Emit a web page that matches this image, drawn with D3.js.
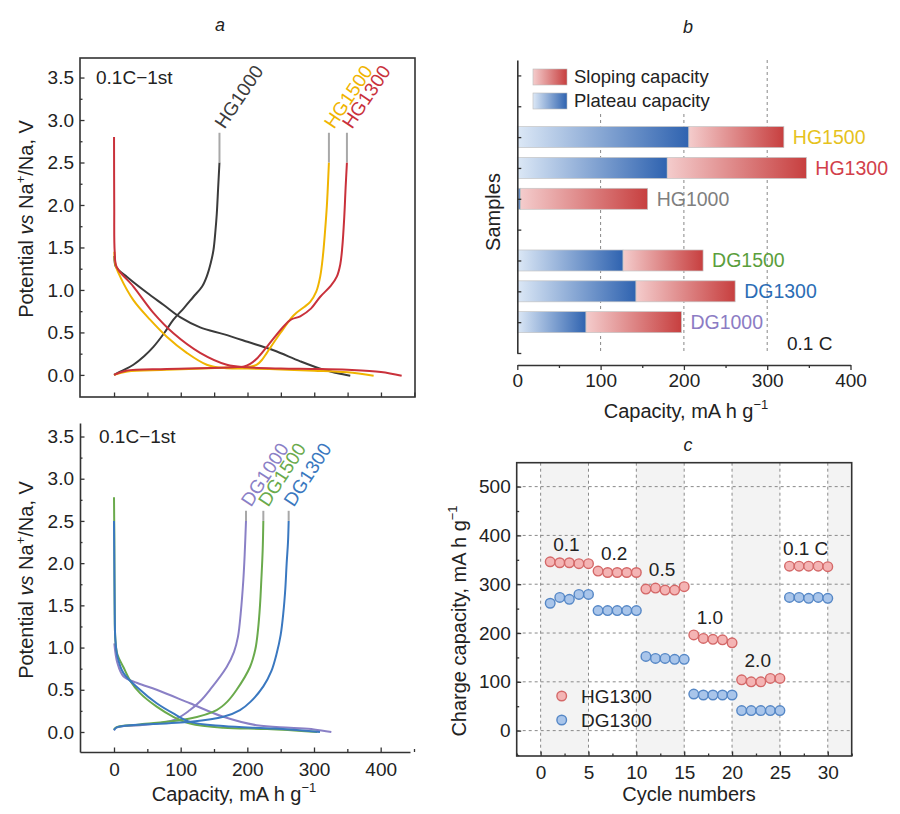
<!DOCTYPE html>
<html><head><meta charset="utf-8">
<script src="https://cdn.jsdelivr.net/npm/d3@7"></script>
<style>
body{margin:0;background:#fff}
svg{display:block;font-family:"Liberation Sans",Arial,Helvetica,sans-serif}
</style>
</head><body>
<svg id="chart" width="900" height="814"></svg>
<script>
// ---------------- DATA ----------------
// Panel a (top): [capacity mAh/g, potential V]
const hg1000Dis = [[0.5,1.4],[3,1.27],[20,1.15],[49,0.97],[75,0.82],[99,0.68],[129,0.56],[164,0.48],[200,0.39],[239,0.29],[279,0.16],[314,0.06],[335,0.02],[354,-0.01]];
const hg1000Chg = [[0,0],[10,0.04],[29,0.12],[45,0.22],[59,0.33],[75,0.49],[89,0.65],[105,0.79],[119,0.92],[132,1.04],[139,1.16],[145,1.32],[149,1.47],[152,1.7],[154,1.9],[156,2.2],[158,2.5]];
const hg1500Dis = [[0.5,1.45],[2,1.3],[9,1.16],[29,0.88],[54,0.65],[79,0.45],[109,0.26],[139,0.12],[165,0.08],[200,0.075],[250,0.065],[300,0.05],[350,0.03],[389,-0.01]];
const hg1500Chg = [[0,0],[20,0.04],[79,0.06],[179,0.09],[205,0.1],[214,0.12],[222,0.18],[229,0.26],[249,0.49],[269,0.70],[285,0.80],[294,0.86],[303,0.98],[309,1.16],[313,1.4],[316,1.67],[319,2.0],[322,2.5]];
const hg1300Dis = [[0,2.8],[0.3,2.0],[1,1.45],[4,1.27],[29,1.04],[59,0.73],[89,0.49],[129,0.26],[169,0.12],[199,0.09],[250,0.075],[300,0.07],[350,0.06],[400,0.035],[431,-0.01]];
const hg1300Chg = [[0,0],[18,0.05],[79,0.07],[179,0.09],[195,0.1],[204,0.13],[215,0.2],[229,0.33],[254,0.57],[265,0.65],[279,0.69],[295,0.78],[309,0.92],[325,1.05],[334,1.16],[339,1.3],[342,1.5],[345,1.86],[347,2.2],[349,2.5]];
// Panel a (bottom)
const dg1000Dis = [[0.5,1.05],[5,0.82],[14,0.66],[35,0.58],[64,0.50],[114,0.34],[164,0.18],[214,0.08],[264,0.05],[300,0.03],[326,0.0]];
const dg1000Chg = [[0,0.02],[3,0.05],[15,0.07],[39,0.08],[89,0.14],[114,0.26],[130,0.37],[144,0.50],[169,0.77],[180,0.95],[186,1.13],[190,1.4],[194,1.8],[196,2.1],[198,2.5]];
const dg1500Dis = [[0,2.78],[0.5,2.3],[1,1.5],[2,1.1],[5,0.92],[14,0.77],[25,0.6],[39,0.46],[64,0.30],[89,0.18],[114,0.10],[164,0.05],[230,0.035],[305,0.0]];
const dg1500Chg = [[0,0.03],[5,0.06],[39,0.09],[114,0.16],[154,0.26],[170,0.36],[184,0.50],[204,0.77],[212,0.98],[216,1.21],[219,1.5],[221,1.8],[223,2.15],[224,2.5]];
const dg1300Dis = [[0,2.5],[0.5,2.0],[1,1.5],[2,1.1],[5,0.9],[14,0.70],[39,0.50],[64,0.34],[89,0.22],[114,0.12],[164,0.07],[240,0.04],[309,0.0]];
const dg1300Chg = [[0,0.02],[3,0.05],[14,0.07],[114,0.12],[164,0.18],[189,0.26],[205,0.36],[224,0.54],[236,0.72],[244,0.93],[250,1.15],[254,1.41],[257,1.7],[259,2.0],[261,2.25],[262,2.5]];
const potTicks = [0,0.5,1,1.5,2,2.5,3,3.5];
const capTicks = [0,100,200,300,400];

// Panel b
const sampleNames = ["HG1500","HG1300","HG1000","DG1500","DG1300","DG1000"];
const sampleSlots = [2,3,4,6,7,8];
const plateauCap = [206,180,4,127,142.5,82.5];
const slopingCap = [114,167,152.5,96,119,114.5];

// Panel c
const cycles = d3.range(1,31);
const hg1300Rate = [346,344,344,342,342, 327,324,324,324,324, 290,292,288,288,295, 196,189,187,186,180, 104,100,100,107,107, 337,337,337,337,336];
const dg1300Rate = [261,273,269,279,279, 246,246,246,246,246, 152,148,148,146,146, 75,73,73,73,73, 41,41,41,41,41, 273,273,271,273,271];
const rateLabels = ["0.1","0.2","0.5","1.0","2.0","0.1 C"];
const cycleTicks = [0,5,10,15,20,25,30];
const chargeTicks = [0,100,200,300,400,500];

// ---------------- DRAW ----------------
const svg = d3.select("#chart");
const TICKFS = 19, LABFS = 20, INK = "#222";

function styleAxis(g){
  g.selectAll("text").attr("font-size",TICKFS).attr("fill",INK).attr("font-family",'"Liberation Sans",Arial,sans-serif');
  g.selectAll("line").attr("stroke","#333").attr("stroke-width",1.3);
  g.selectAll("path.domain").attr("stroke","#333").attr("stroke-width",1.6);
}
function minor(g, gen){ g.call(gen.tickFormat("")); g.select(".domain").remove(); styleAxis(g); }

function capLabel(sel, x, y, rot){
  const t = sel.append("text").attr("font-size",LABFS).attr("fill",INK).attr("text-anchor","middle")
    .attr("transform", rot ? `translate(${x},${y}) rotate(-90)` : `translate(${x},${y})`);
  return t;
}
function potentialLabel(x,y){
  const t = capLabel(svg,x,y,true);
  t.append("tspan").text("Potential ");
  t.append("tspan").attr("font-style","italic").text("vs");
  t.append("tspan").text(" Na");
  t.append("tspan").attr("font-size",13).attr("dy",-8).text("+");
  t.append("tspan").attr("dy",8).text("/Na, V");
}
function capacityLabel(x,y){
  const t = capLabel(svg,x,y,false);
  t.append("tspan").text("Capacity, mA h g");
  t.append("tspan").attr("font-size",13).attr("dy",-9).text("\u22121");
}

// titles
[["a",220,31],["b",688,33],["c",688,451]].forEach(([s,x,y])=>
  svg.append("text").attr("x",x).attr("y",y).attr("text-anchor","middle").attr("font-size",18)
     .attr("font-style","italic").attr("fill",INK).text(s));

const line = (xs,ys)=>d3.line().x(d=>xs(d[0])).y(d=>ys(d[1])).curve(d3.curveCatmullRom.alpha(0.5));

// ---- Panel a top ----
const xa = d3.scaleLinear().domain([-51,451]).range([80,415]);
const ya1 = d3.scaleLinear().domain([-0.26,3.73]).range([397,58]);
const gA1 = svg.append("g");
gA1.append("g").attr("transform","translate(80,0)").call(g=>minor(g,d3.axisLeft(ya1).tickValues(d3.range(0.25,3.6,0.5)).tickSize(-2.5)));
gA1.append("g").attr("transform","translate(80,0)").call(d3.axisLeft(ya1).tickValues(potTicks).tickFormat(d3.format(".1f")).tickSize(-4.5).tickPadding(6)).call(g=>{g.select(".domain").remove();styleAxis(g);});
gA1.append("g").attr("transform","translate(0,397)").call(g=>minor(g,d3.axisBottom(xa).tickValues(d3.range(0,451,50)).tickSize(-4.5)));
gA1.append("rect").attr("x",80).attr("y",58).attr("width",335).attr("height",339).attr("fill","none").attr("stroke","#333").attr("stroke-width",1.6);
gA1.append("text").attr("x",96).attr("y",84).attr("font-size",19).attr("fill",INK).text("0.1C\u22121st");

const topSeries = [
  {name:"HG1000",color:"#3b3b3b",dis:hg1000Dis,chg:hg1000Chg},
  {name:"HG1500",color:"#f0b400",dis:hg1500Dis,chg:hg1500Chg},
  {name:"HG1300",color:"#c9313b",dis:hg1300Dis,chg:hg1300Chg}
];
const botSeries = [
  {name:"DG1000",color:"#8a80c6",dis:dg1000Dis,chg:dg1000Chg},
  {name:"DG1500",color:"#6aaa4c",dis:dg1500Dis,chg:dg1500Chg},
  {name:"DG1300",color:"#3a78c0",dis:dg1300Dis,chg:dg1300Chg}
];
function drawCurves(series, xs, ys, leadV, rot){
  const gl = line(xs,ys);
  series.forEach(s=>{
    [s.dis,s.chg].forEach(d=>svg.append("path").attr("d",gl(d)).attr("fill","none").attr("stroke",s.color).attr("stroke-width",2));
  });
  series.forEach(s=>{
    const last = s.chg[s.chg.length-1];
    const lx = xs(last[0]), y0 = ys(last[1]), y1 = ys(leadV);
    svg.append("line").attr("x1",lx).attr("x2",lx).attr("y1",y0).attr("y2",y1).attr("stroke","#a8a8a8").attr("stroke-width",2);
    svg.append("text").attr("transform",`translate(${lx+5},${y1-3}) rotate(${rot})`).attr("font-size",19)
      .attr("fill",s.color).text(s.name);
  });
}
drawCurves(topSeries, xa, ya1, 2.85, -56);

// ---- Panel a bottom ----
const ya2 = d3.scaleLinear().domain([-0.237,3.66]).range([752,423]);
const xa2 = d3.scaleLinear().domain([-51,444]).range([80,410]);
svg.append("g").attr("transform","translate(80,0)").call(g=>minor(g,d3.axisLeft(ya2).tickValues(d3.range(0.25,3.6,0.5)).tickSize(-2.5)));
svg.append("g").attr("transform","translate(80,0)").call(d3.axisLeft(ya2).tickValues(potTicks).tickFormat(d3.format(".1f")).tickSize(-4.5).tickSizeOuter(0).tickPadding(6)).call(styleAxis);
svg.append("g").attr("transform","translate(0,752)").call(g=>minor(g,d3.axisBottom(xa2).tickValues(d3.range(50,451,100)).tickSize(-3)));
svg.append("g").attr("transform","translate(0,752)").call(d3.axisBottom(xa2).tickValues(capTicks).tickSize(-4.5).tickSizeOuter(0).tickPadding(11)).call(styleAxis);
svg.append("text").attr("x",99).attr("y",443).attr("font-size",19).attr("fill",INK).text("0.1C\u22121st");
drawCurves(botSeries, xa2, ya2, 2.62, -57);

potentialLabel(33,219);
potentialLabel(33,580);
capacityLabel(234,801);

// ---- Panel b ----
const xb = d3.scaleLinear().domain([0,400]).range([517.3,850.5]);
const yb = d3.scaleLinear().domain([-0.5,9]).range([60,353]);
const defs = svg.append("defs");
function grad(id,c0,c1){
  const g = defs.append("linearGradient").attr("id",id).attr("x1","0").attr("x2","1").attr("y1","0").attr("y2","0");
  g.append("stop").attr("offset","0").attr("stop-color",c0);
  g.append("stop").attr("offset","1").attr("stop-color",c1);
}
grad("gPlat","#dce8f6","#2f63b0");
grad("gSlope","#f4cccc","#c73f3f");
// gridlines
[100,200,300].forEach(v=>svg.append("line").attr("x1",xb(v)).attr("x2",xb(v)).attr("y1",60).attr("y2",353)
  .attr("stroke","#888").attr("stroke-width",1).attr("stroke-dasharray","3,3"));
// legend background + legend
svg.append("rect").attr("x",527).attr("y",58).attr("width",195).attr("height",54).attr("fill","#fff");
[["gSlope","Sloping capacity",69],["gPlat","Plateau capacity",93]].forEach(([id,t,y])=>{
  svg.append("rect").attr("x",533).attr("y",y).attr("width",34).attr("height",16).attr("fill",`url(#${id})`).attr("stroke","#bbb").attr("stroke-width",0.6);
  svg.append("text").attr("x",574).attr("y",y+14).attr("font-size",18.5).attr("fill",INK).text(t);
});
const barH = 21;
const labelColors = ["#e6c21c","#d2404a","#7f7f7f","#5a9e3c","#2c6db5","#8c7cc4"];
sampleNames.forEach((n,i)=>{
  const yc = yb(sampleSlots[i]);
  svg.append("rect").attr("x",xb(0)).attr("y",yc-barH/2).attr("width",xb(plateauCap[i])-xb(0)).attr("height",barH)
    .attr("fill","url(#gPlat)").attr("stroke","#c4c4c4").attr("stroke-width",0.7);
  svg.append("rect").attr("x",xb(plateauCap[i])).attr("y",yc-barH/2).attr("width",xb(plateauCap[i]+slopingCap[i])-xb(plateauCap[i])).attr("height",barH)
    .attr("fill","url(#gSlope)").attr("stroke","#c4c4c4").attr("stroke-width",0.7);
  svg.append("text").attr("x",xb(plateauCap[i]+slopingCap[i])+9).attr("y",yc+7).attr("font-size",19.5)
    .attr("fill",labelColors[i]).text(n);
});
svg.append("g").attr("transform","translate(517.3,0)").call(d3.axisLeft(yb).tickValues(d3.range(0,10)).tickFormat("").tickSize(-4).tickSizeOuter(0)).call(styleAxis);
svg.append("g").attr("transform","translate(0,365)").call(g=>minor(g,d3.axisBottom(xb).tickValues([50,150,250,350]).tickSize(3)));
svg.append("g").attr("transform","translate(0,365)").call(d3.axisBottom(xb).tickValues(capTicks).tickSize(5).tickSizeOuter(0).tickPadding(4)).call(styleAxis);
svg.append("text").attr("x",787).attr("y",350).attr("font-size",19).attr("fill",INK).text("0.1 C");
capLabel(svg,500,212,true).text("Samples");
capacityLabel(686,418);

// ---- Panel c ----
const xc = d3.scaleLinear().domain([-2.5,32.5]).range([516.7,851.7]);
const yc = d3.scaleLinear().domain([-52,549]).range([756,462.7]);
[[0,5],[10,15],[20,25],[30,32.5]].forEach(([a,b])=>svg.append("rect").attr("x",xc(a)).attr("y",462.7)
  .attr("width",xc(b)-xc(a)).attr("height",756-462.7).attr("fill","#f3f3f3"));
cycleTicks.forEach(v=>svg.append("line").attr("x1",xc(v)).attr("x2",xc(v)).attr("y1",462.7).attr("y2",756)
  .attr("stroke","#8a8a8a").attr("stroke-dasharray","3,3").attr("stroke-width",1));
chargeTicks.forEach(v=>svg.append("line").attr("x1",516.7).attr("x2",851.7).attr("y1",yc(v)).attr("y2",yc(v))
  .attr("stroke","#8a8a8a").attr("stroke-dasharray","3,3").attr("stroke-width",1));
svg.append("g").attr("transform","translate(516.7,0)").call(g=>minor(g,d3.axisLeft(yc).tickValues(d3.range(-50,550,100)).tickSize(-2.5)));
svg.append("g").attr("transform","translate(516.7,0)").call(d3.axisLeft(yc).tickValues(chargeTicks).tickSize(-4.5).tickPadding(6)).call(g=>{g.select(".domain").remove();styleAxis(g);});
svg.append("g").attr("transform","translate(0,756)").call(g=>minor(g,d3.axisBottom(xc).tickValues(d3.range(-2.5,33,5)).tickSize(-2.5)));
svg.append("g").attr("transform","translate(0,756)").call(d3.axisBottom(xc).tickValues(cycleTicks).tickSize(-4.5).tickPadding(10)).call(g=>{g.select(".domain").remove();styleAxis(g);});
svg.append("rect").attr("x",516.7).attr("y",462.7).attr("width",335).attr("height",293.3).attr("fill","none").attr("stroke","#333").attr("stroke-width",1.6);

const hgStyle = {fill:"#f4b4b4",stroke:"#d46868"}, dgStyle = {fill:"#a9c5ea",stroke:"#5587c6"};
[[dg1300Rate,dgStyle],[hg1300Rate,hgStyle]].forEach(([arr,st])=>{
  svg.append("g").selectAll("circle").data(cycles).join("circle")
    .attr("cx",c=>xc(c)).attr("cy",(c,i)=>yc(arr[i])).attr("r",4.8)
    .attr("fill",st.fill).attr("stroke",st.stroke).attr("stroke-width",1.4);
});
rateLabels.forEach((t,k)=>{
  const seg = hg1300Rate.slice(k*5,k*5+5);
  const cx = d3.mean(cycles.slice(k*5,k*5+5));
  svg.append("text").attr("x",xc(cx)-3).attr("y",yc(d3.max(seg))-11).attr("text-anchor","middle")
    .attr("font-size",19).attr("fill",INK).text(t);
});
[["HG1300",hgStyle,696],["DG1300",dgStyle,720]].forEach(([t,st,y])=>{
  svg.append("circle").attr("cx",561.7).attr("cy",y).attr("r",4.8).attr("fill",st.fill).attr("stroke",st.stroke).attr("stroke-width",1.4);
  svg.append("text").attr("x",581).attr("y",y+7).attr("font-size",19).attr("fill",INK).text(t);
});
const cl = capLabel(svg,466,621,true);
cl.append("tspan").text("Charge capacity, mA h g");
cl.append("tspan").attr("font-size",13).attr("dy",-9).text("\u22121");
capLabel(svg,689,801,false).text("Cycle numbers");
</script>
</body></html>
